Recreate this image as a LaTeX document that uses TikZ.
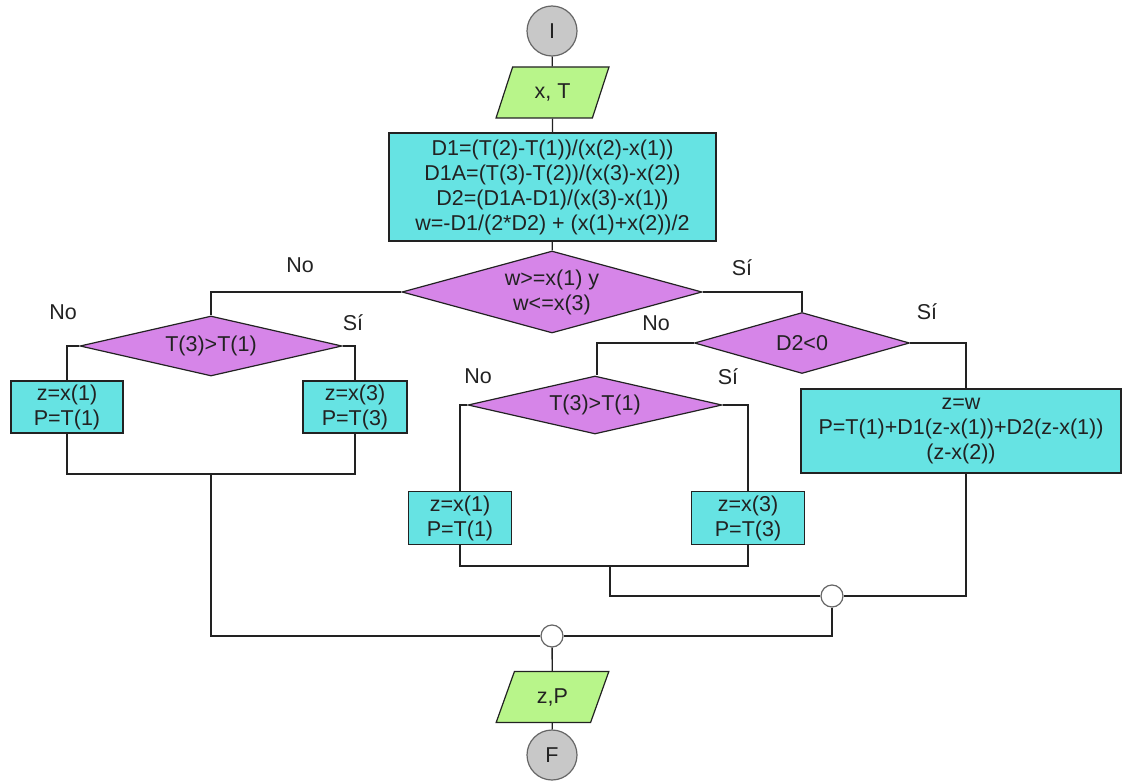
\documentclass[tikz,border=0pt]{standalone}
\usepackage{fontspec}
\setmainfont{Liberation Sans}
\usetikzlibrary{shapes.geometric}
\definecolor{boxfill}{HTML}{66E3E3}
\definecolor{diafill}{HTML}{D685E8}
\definecolor{iofill}{HTML}{B8F58A}
\definecolor{termfill}{HTML}{C8C8C8}
\definecolor{ink}{HTML}{222222}
\begin{document}
\begin{tikzpicture}[x=1pt,y=-1pt,
  every node/.style={font=\fontsize{21.5}{25}\selectfont, text=ink},
  wire/.style={draw=ink, line width=1.4pt},
  procbox/.style={rectangle, draw=ink, line width=1.4pt, fill=boxfill, align=center, inner sep=0pt},
  decision/.style={diamond, draw=ink, line width=1.2pt, fill=diafill, align=center, inner sep=0pt, aspect=4},
  iobox/.style={trapezium, trapezium left angle=67, trapezium right angle=113, draw=ink, line width=1.2pt, fill=iofill, inner sep=0pt, minimum height=51pt, minimum width=113pt, trapezium stretches=true},
  term/.style={circle, draw=black!60, line width=1.2pt, fill=termfill, minimum size=50pt, inner sep=0pt},
  merge/.style={circle, draw=black!60, line width=1.2pt, fill=white, minimum size=22pt, inner sep=0pt},
  lbl/.style={inner sep=0pt}
]
\useasboundingbox (0,0) rectangle (1125,781);
% nodes
\node[term] (I) at (552,31) {I};
\node[iobox] (xt) at (552.5,92.5) {x, T};
\node[procbox, minimum width=327pt, minimum height=108pt] (calc) at (552.5,187)
  {D1=(T(2)-T(1))/(x(2)-x(1))\\D1A=(T(3)-T(2))/(x(3)-x(2))\\D2=(D1A-D1)/(x(3)-x(1))\\w=-D1/(2*D2) + (x(1)+x(2))/2};
\node[decision, minimum width=300pt, minimum height=82pt] (d1) at (552,292) {w>=x(1) y\\w<=x(3)};
\node[decision, minimum width=262pt, minimum height=60pt] (d2) at (211,346) {T(3)>T(1)};
\node[procbox, minimum width=112pt, minimum height=52pt] (b1) at (67,407) {z=x(1)\\P=T(1)};
\node[procbox, minimum width=104pt, minimum height=52pt] (b2) at (355,407) {z=x(3)\\P=T(3)};
\node[decision, minimum width=215pt, minimum height=61pt] (d3) at (802,343) {D2<0};
\node[decision, minimum width=254pt, minimum height=58pt] (d4) at (595,405) {T(3)>T(1)};
\node[procbox, minimum width=103pt, minimum height=53pt] (b3) at (460,518) {z=x(1)\\P=T(1)};
\node[procbox, minimum width=113pt, minimum height=53pt] (b4) at (748,518) {z=x(3)\\P=T(3)};
\node[procbox, minimum width=320pt, minimum height=84pt] (b5) at (961,431)
  {z=w\\P=T(1)+D1(z-x(1))+D2(z-x(1))\\(z-x(2))};
\node[merge] (m1) at (832,596) {};
\node[merge] (m2) at (552,636) {};
\node[iobox] (out) at (552.5,697) {z,P};
\node[term] (F) at (552,755) {F};
\coordinate (j1) at (211,474);
\coordinate (j2) at (610,566);
% connectors
\draw[wire] (I) -- (xt);
\draw[wire] (xt) -- (calc);
\draw[wire] (calc) -- (d1);
\draw[wire] (d1.west) -| (d2.north);
\draw[wire] (d2.west) -| (b1.north);
\draw[wire] (d2.east) -| (b2.north);
\draw[wire] (b1.south) |- (j1);
\draw[wire] (b2.south) |- (j1);
\draw[wire] (j1) |- (m2.west);
\draw[wire] (d1.east) -| (d3.north);
\draw[wire] (d3.east) -| ([xshift=5pt]b5.north);
\draw[wire] (d3.west) -| ([xshift=2pt]d4.north);
\draw[wire] (d4.west) -| (b3.north);
\draw[wire] (d4.east) -| (b4.north);
\draw[wire] (b3.south) |- (j2);
\draw[wire] (b4.south) |- (j2);
\draw[wire] (j2) |- (m1.west);
\draw[wire] ([xshift=5pt]b5.south) |- (m1.east);
\draw[wire] (m1.south) |- (m2.east);
\draw[wire] (m2) -- (out);
\draw[wire] (out) -- (F);
% labels
\node[lbl] (l1) at (300,265) {No};
\node[lbl] (l2) at (742,268) {Sí};
\node[lbl] (l3) at (63,312) {No};
\node[lbl] (l4) at (353,323) {Sí};
\node[lbl] (l5) at (656,323) {No};
\node[lbl] (l6) at (927,312) {Sí};
\node[lbl] (l7) at (478,376) {No};
\node[lbl] (l8) at (728,377) {Sí};
\end{tikzpicture}
\end{document}
